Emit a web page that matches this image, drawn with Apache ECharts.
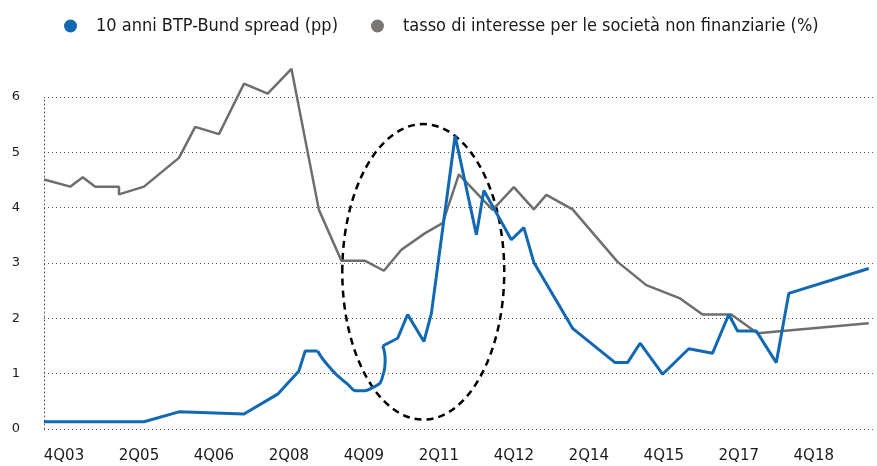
<!DOCTYPE html>
<html>
<head>
<meta charset="utf-8">
<script src="https://cdn.jsdelivr.net/npm/echarts@6/dist/echarts.min.js"></script>
<style>
  html, body { margin: 0; padding: 0; background: #fff; }
  #chart { width: 877px; height: 466px; }
</style>
</head>
<body>
<div id="chart"></div>
<script>
// x positions are quarters counted from 2Q03
const tickQuarters = [2, 8, 14, 20, 26, 32, 38, 44, 50, 56, 62];
const tickLabels = ["4Q03", "2Q05", "4Q06", "2Q08", "4Q09", "2Q11", "4Q12", "2Q14", "4Q15", "2Q17", "4Q18"];

const spreadName = "10 anni BTP-Bund spread (pp)";
const rateName = "tasso di interesse per le società non finanziarie (%)";

// BTP-Bund spread, before the hand-drawn dip
const spreadX1 = [0, 8, 10.8, 16, 18.7, 20.4, 20.9, 21.9];
const spreadY1 = [0.13, 0.13, 0.31, 0.27, 0.63, 1.05, 1.41, 1.41];
// the curved dip around 4Q09
const curveX = [21.9, 22.8, 24.2, 25.2, 26.4, 27.1, 27.3, 27.1];
const curveY = [1.41, 1.13, 0.83, 0.69, 0.76, 0.95, 1.25, 1.50];
// spread after the dip
const spreadX2 = [27.1, 28.3, 29.1, 30.4, 31.0, 32.9, 34.6, 35.2, 37.4, 38.4, 39.2, 42.3, 45.7, 46.7, 47.7, 49.5, 51.6, 53.5, 54.8, 55.5, 57.0, 58.6, 59.6, 66];
const spreadY2 = [1.50, 1.64, 2.07, 1.58, 2.09, 5.30, 3.51, 4.31, 3.42, 3.64, 3.01, 1.82, 1.20, 1.20, 1.55, 0.99, 1.45, 1.37, 2.07, 1.77, 1.77, 1.20, 2.45, 2.90];

// interest rate for non-financial corporations
const rateX = [0, 2.1, 3.1, 4.1, 6.0, 6.0, 8.0, 10.8, 12.1, 14.0, 16.0, 17.9, 19.8, 22.0, 23.8, 25.7, 27.2, 28.6, 30.5, 31.9, 33.2, 35.9, 37.6, 39.2, 40.2, 42.3, 45.9, 48.2, 50.9, 52.7, 55.0, 57.1, 66];
const rateY = [4.51, 4.38, 4.55, 4.38, 4.38, 4.24, 4.38, 4.90, 5.46, 5.33, 6.24, 6.06, 6.51, 3.96, 3.04, 3.04, 2.86, 3.24, 3.54, 3.72, 4.60, 3.96, 4.37, 3.97, 4.23, 3.97, 3.02, 2.60, 2.36, 2.07, 2.07, 1.73, 1.91];

// dashed ellipse: centre quarter, centre value, half width (quarters), half height (value)
const ellipse = [30.35, 2.84, 6.48, 2.67];

const BLUE = "#1168b3";
const GREY = "#6e6e6e";
const TEXT = "#1a1a1a";
const DOTS = "#555555";

const pairs = (xs, ys) => xs.map((x, i) => [x, ys[i]]);

const lineSeries = (name, data, color, width, extra = {}) => ({
  name,
  type: "line",
  data,
  symbol: "none",
  clip: false,
  lineStyle: { color, width },
  itemStyle: { color },
  ...extra,
});

const chart = echarts.init(document.getElementById("chart"));

chart.setOption({
  animation: false,
  backgroundColor: "#fff",
  legend: {
    left: 59,
    top: 12,
    icon: "circle",
    itemWidth: 13,
    itemHeight: 13,
    itemGap: 33,
    data: [
      { name: spreadName, itemStyle: { color: BLUE } },
      { name: rateName, itemStyle: { color: "#7a7674" } },
    ],
    textStyle: {
      color: TEXT,
      fontSize: 18,
      fontFamily: "DejaVu Sans Condensed",
      padding: [0, 0, 0, 14],
    },
  },
  grid: { left: 44, right: 2, top: 97, bottom: 37 },
  xAxis: {
    type: "value",
    min: 0,
    max: 66.5,
    axisLine: { show: false },
    axisTick: { show: false },
    splitLine: { show: false },
    axisLabel: {
      customValues: tickQuarters,
      formatter: (v) => tickLabels[tickQuarters.indexOf(v)] ?? "",
      margin: 20,
      color: TEXT,
      fontSize: 15,
      fontFamily: "DejaVu Sans",
      padding: [0, 10, 0, 0],
    },
  },
  yAxis: {
    type: "value",
    min: 0,
    max: 6,
    interval: 1,
    axisLine: { show: true, lineStyle: { color: DOTS, type: [1, 3] } },
    axisTick: { show: false },
    splitLine: { lineStyle: { color: DOTS, type: [1, 3] } },
    axisLabel: {
      margin: 24,
      color: TEXT,
      fontSize: 13,
      fontFamily: "DejaVu Sans",
      padding: [0, 0, 8, 0],
    },
  },
  series: [
    lineSeries(rateName, pairs(rateX, rateY), GREY, 2.5),
    lineSeries(spreadName, pairs(spreadX1, spreadY1), BLUE, 3),
    lineSeries(spreadName, pairs(curveX, curveY), BLUE, 3, { smooth: 0.6 }),
    lineSeries(spreadName, pairs(spreadX2, spreadY2), BLUE, 3),
    {
      type: "custom",
      silent: true,
      clip: false,
      data: [ellipse],
      encode: { x: 0, y: 1 },
      renderItem: (params, api) => {
        const c = api.coord([api.value(0), api.value(1)]);
        const s = api.size([api.value(2), api.value(3)]);
        return {
          type: "ellipse",
          shape: { cx: c[0], cy: c[1], rx: s[0], ry: s[1] },
          style: { fill: "none", stroke: "#000", lineWidth: 2.5, lineDash: [7, 5] },
        };
      },
    },
  ],
});
</script>
</body>
</html>
